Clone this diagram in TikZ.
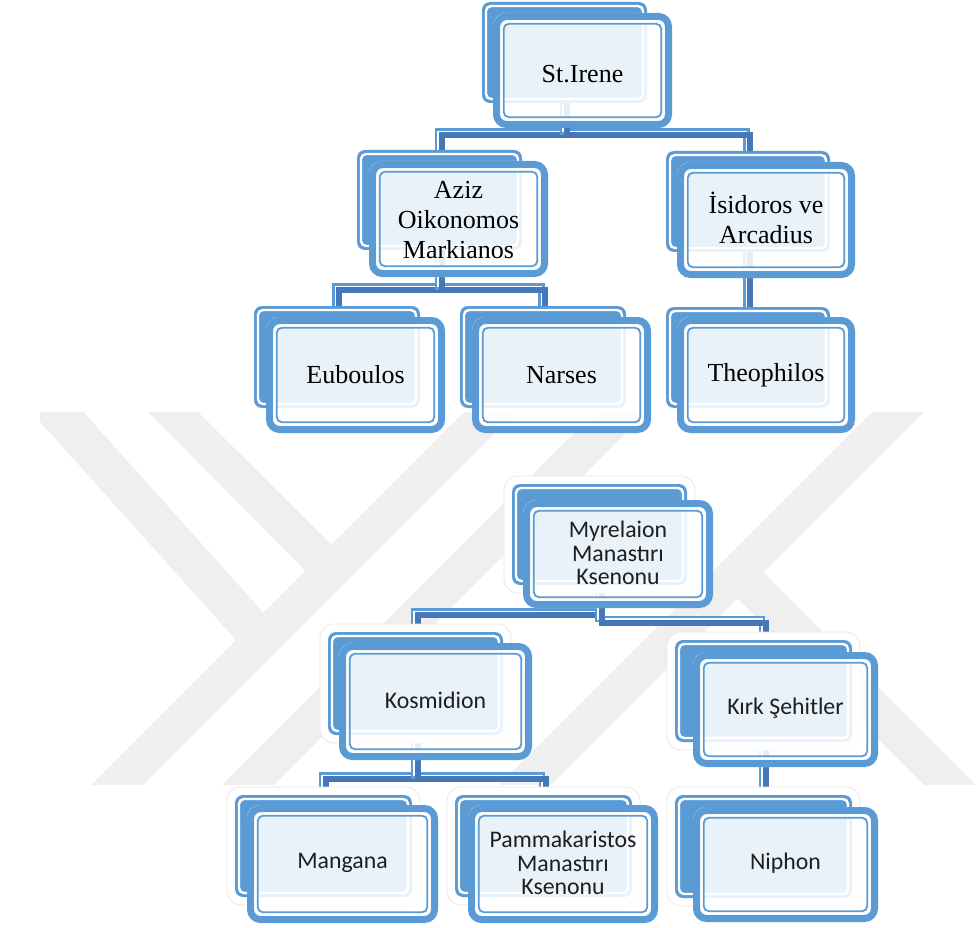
\documentclass[tikz,border=0pt]{standalone}
\usepackage{fontspec}
\setmainfont{Liberation Serif}
\newfontfamily\calib{Carlito}
\usetikzlibrary{calc,fit}
\definecolor{bx}{HTML}{5B9BD5}
\definecolor{cdark}{HTML}{4677B8}
\definecolor{wm}{HTML}{EFEFEF}
\definecolor{halo}{HTML}{E8E8E8}
\definecolor{tgray}{HTML}{1E1E1E}
\pgfdeclarelayer{bg}
\pgfsetlayers{bg,main}
\tikzset{
  frontbox/.style={inner sep=0pt, outer sep=0pt, fill=white, fill opacity=0.87,
    rounded corners=13pt},
  backbox/.style={inner sep=0pt, outer sep=0pt, fill=bx, rounded corners=8pt},
  topt/.style={font=\fontsize{26}{30}\selectfont, text=black, align=center, inner sep=0pt},
  bott/.style={font=\calib\fontsize{23.8}{23.3}\selectfont, text=tgray, align=center, inner sep=0pt},
  connlight/.style={draw=bx, line width=2.4pt, double=white, double distance=1.8pt},
  conndark/.style={draw=cdark, line width=6pt},
}
% #1 name, #2 front nw, #3 front se, #4 back nw, #5 back se, #6 font style, #7 text, #8 text shift
\newcommand\orgbox[8]{%
  \node[backbox, fit={(#4) (#5)}] (#1b) {};
  \draw[white, line width=2.4pt, rounded corners=5pt] ($(#1b.north west)+(4,4)$) rectangle ($(#1b.south east)+(-4,-4)$);
  \node[frontbox, fit={(#2) (#3)}] (#1) {};
  \draw[bx, line width=7pt, rounded corners=10pt] ($(#1.north west)+(3.5,3.5)$) rectangle ($(#1.south east)+(-3.5,-3.5)$);
  \draw[white, line width=2.6pt, rounded corners=7pt] ($(#1.north west)+(8.6,8.6)$) rectangle ($(#1.south east)+(-8.6,-8.6)$);
  \draw[bx, line width=1.8pt, rounded corners=5pt] ($(#1.north west)+(10.8,10.8)$) rectangle ($(#1.south east)+(-10.8,-10.8)$);
  \node[#6] (#1t) at ($(#1.center)+(0,#8)$) {#7};
}
\newcommand\orgboxh[8]{%
  \filldraw[fill=white, draw=halo, line width=0.8pt, rounded corners=14pt] ($(#4)+(-8,-8)$) rectangle ($(#5)+(8,8)$);
  \orgbox{#1}{#2}{#3}{#4}{#5}{#6}{#7}{#8}%
}
% #1 parent back node, #2 child back node, #3 bar y
\newcommand\connect[3]{%
  \path ($(#1.south)+(-1.5,-8)$) coordinate (s) ($(#2.north)+(-1.5,8)$) coordinate (e)
        ($(s)+(3.5,0)$) coordinate (s2) ($(e)+(3.5,0)$) coordinate (e2);
  \draw[connlight] (s) -- (s |- 0,#3) -- (e |- 0,#3) -- (e);
  \draw[conndark] (s2) -- (s2 |- 0,#3+3.5) -- (e2 |- 0,#3+3.5) -- (e2);
}
\begin{document}
\begin{tikzpicture}[x=1pt,y=-1pt]
\useasboundingbox (0,0) rectangle (980,928);

% top tree
\orgbox{irene}{493,13}{672,128}{482,2}{647,103}{topt}{St.Irene}{4}
\orgbox{aziz}{369,161}{548,277}{357,150}{522,250}{topt}{Aziz\\Oikonomos\\Markianos}{1}
\orgbox{isid}{677,162}{855,278}{666,151}{830,252}{topt}{İsidoros ve\\Arcadius}{-2}
\orgbox{eub}{266,317}{445,433}{254,306}{420,408}{topt}{Euboulos}{0}
\orgbox{nars}{472,317}{651,433}{460,306}{626,408}{topt}{Narses}{0}
\orgbox{theo}{677,317}{855,433}{666,307}{830,408}{topt}{Theophilos}{0}

% bottom tree
\orgboxh{myr}{523,500}{713,608}{512,484}{687,585}{bott}{Myrelaion\\Manastırı\\Ksenonu}{-1}
\orgboxh{kos}{339,643}{532,760}{328,632}{503,735}{bott}{Kosmidion}{-1}
\orgboxh{kirk}{693,652}{878,767}{675,640}{852,742}{bott}{Kırk Şehitler}{-1}
\orgboxh{mang}{247,805}{438,923}{235,795}{412,897}{bott}{Mangana}{-1}
\orgboxh{pamm}{468,805}{658,923}{455,795}{632,897}{bott}{Pammakaristos\\Manastırı\\Ksenonu}{-1}
\orgboxh{niph}{693,807}{878,922}{675,795}{852,898}{bott}{Niphon}{-1}

\begin{pgfonlayer}{bg}
  \fill[white] (0,0) rectangle (980,928);
  % watermark
  \begin{scope}
    \clip (40,412) rectangle (980,784);
    \fill[wm] (148,412) -- (198,412) -- (357.5,570.5) -- (305.5,570.5) -- cycle;
    \fill[wm] (8,386) -- (60,386) -- (288,640) -- (236,640) -- cycle;
    \fill[wm] (464,412) -- (516,412) -- (138,790) -- (86,790) -- cycle;
    \fill[wm] (595,412) -- (647,412) -- (269,790) -- (217,790) -- cycle;
    \fill[wm] (872,412) -- (924,412) -- (546,790) -- (494,790) -- cycle;
    \fill[wm] (711.5,572.5) -- (763.5,572.5) -- (981,790) -- (929,790) -- cycle;
  \end{scope}
  % connectors
  \connect{ireneb}{azizb}{131.5}
  \connect{ireneb}{isidb}{131.5}
  \connect{azizb}{eubb}{286.5}
  \connect{azizb}{narsb}{286.5}
  \connect{isidb}{theob}{290}
  \connect{myrb}{kosb}{611.5}
  \connect{myrb}{kirkb}{619}
  \connect{kosb}{mangb}{775.5}
  \connect{kosb}{pammb}{775.5}
  \connect{kirkb}{niphb}{780}
\end{pgfonlayer}
\end{tikzpicture}
\end{document}
